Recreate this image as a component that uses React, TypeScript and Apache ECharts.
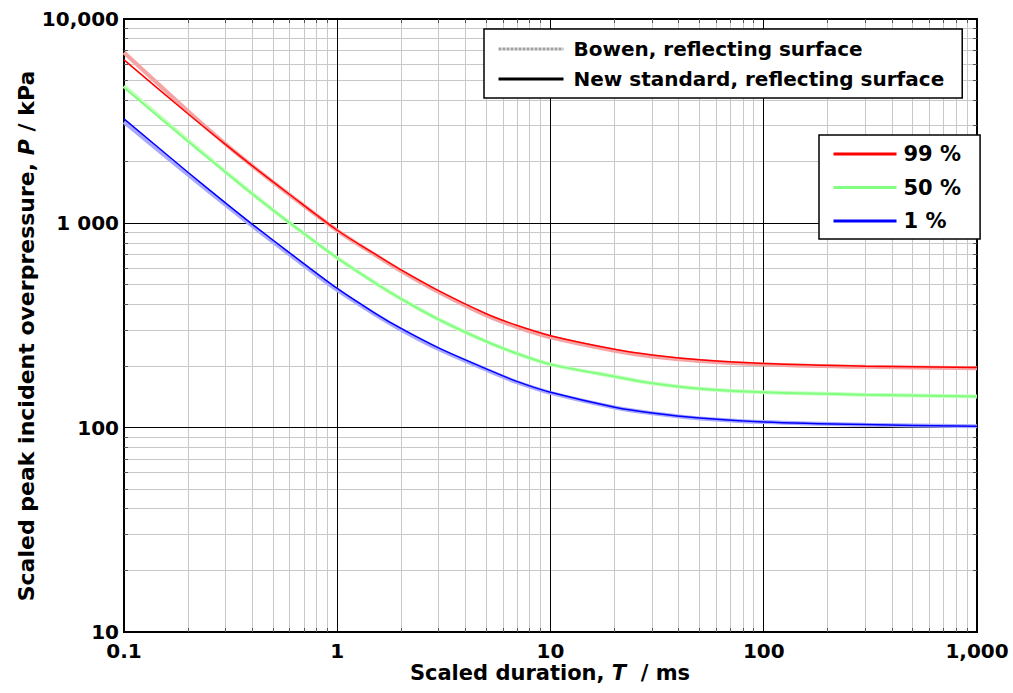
import React, { useEffect, useRef } from "react";
import * as echarts from "echarts";

// ---- data ----
const T = [0.1, 0.2, 0.3, 0.4, 0.6, 1, 1.5, 2, 3, 5, 7, 10, 20, 30, 50, 100, 300, 1000];
const NEW_99 = [6310, 3430, 2427, 1910, 1380, 925, 708, 590, 467, 361, 316, 282, 242, 227, 215, 206, 200, 197];
const NEW_50 = [4620, 2512, 1774, 1393, 1003, 677, 512, 426, 338, 264, 230, 204, 178, 165, 155, 149, 145, 142];
const NEW_1 = [3245, 1774, 1256, 989, 715, 480, 364, 305, 245, 194, 168, 149, 126, 118, 111.5, 106.7, 103.5, 101.6];
const BOWEN_99 = [6850, 3530, 2440, 1910, 1375, 922, 702, 583, 460, 354, 310, 277, 238, 223, 212, 204, 198.5, 195.5];
const BOWEN_50 = [4700, 2540, 1785, 1395, 1003, 677, 512, 426, 338, 264, 230, 204, 178, 165, 155, 149, 145, 142];
const BOWEN_1 = [3130, 1730, 1230, 970, 702, 472, 359, 301, 242, 192, 166.5, 148, 125.5, 117.5, 111, 106.5, 103.3, 101.5];

const X_TICKS = [0.1, 1, 10, 100, 1000];
const X_LABELS = ["0.1", "1", "10", "100", "1,000"];
const Y_TICKS = [10, 100, 1000, 10000];
const Y_LABELS = ["10", "100", "1 000", "10,000"];
const MINOR_MULT = [2, 3, 4, 5, 6, 7, 8, 9];
const X_DECADES = [0.1, 1, 10, 100];
const Y_DECADES = [10, 100, 1000];
const X_MAJOR_INNER = [1, 10, 100];
const Y_MAJOR_INNER = [100, 1000];

const X_MIN = 0.1, X_MAX = 1000, Y_MIN = 10, Y_MAX = 10000;

const FONT = "DejaVu Sans";

function pick(ticks: number[], labels: string[], v: number) {
  const i = ticks.findIndex((t) => Math.abs(Math.log10(t) - Math.log10(v)) < 1e-6);
  return i >= 0 ? labels[i] : "";
}

const crisp = (p: number) => Math.round(p - 0.5) + 0.5;

function vLines(values: number[], color: string, withTicks: boolean, z: number) {
  return {
    type: "custom",
    silent: true,
    z,
    data: values.map((v) => [v, Y_MIN]),
    renderItem: (params: any, api: any) => {
      const x = api.value(0);
      const p1 = api.coord([x, Y_MIN]);
      const p2 = api.coord([x, Y_MAX]);
      const xx = crisp(p1[0]);
      const children: any[] = [
        { type: "line", shape: { x1: xx, y1: p1[1], x2: xx, y2: p2[1] }, style: { stroke: color, lineWidth: 1 } },
      ];
      if (withTicks) {
        children.push({ type: "line", shape: { x1: xx, y1: p1[1], x2: xx, y2: p1[1] - 4 }, style: { stroke: "#555", lineWidth: 1 } });
        children.push({ type: "line", shape: { x1: xx, y1: p2[1], x2: xx, y2: p2[1] + 4 }, style: { stroke: "#555", lineWidth: 1 } });
      }
      return { type: "group", children };
    },
  };
}

function hLines(values: number[], color: string, withTicks: boolean, z: number) {
  return {
    type: "custom",
    silent: true,
    z,
    data: values.map((v) => [X_MIN, v]),
    renderItem: (params: any, api: any) => {
      const y = api.value(1);
      const p1 = api.coord([X_MIN, y]);
      const p2 = api.coord([X_MAX, y]);
      const yy = crisp(p1[1]);
      const children: any[] = [
        { type: "line", shape: { x1: p1[0], y1: yy, x2: p2[0], y2: yy }, style: { stroke: color, lineWidth: 1 } },
      ];
      if (withTicks) {
        children.push({ type: "line", shape: { x1: p1[0], y1: yy, x2: p1[0] + 4, y2: yy }, style: { stroke: "#555", lineWidth: 1 } });
        children.push({ type: "line", shape: { x1: p2[0], y1: yy, x2: p2[0] - 4, y2: yy }, style: { stroke: "#555", lineWidth: 1 } });
      }
      return { type: "group", children };
    },
  };
}

function lineSeries(name: string, ys: number[], color: string, width: number, z: number) {
  return {
    type: "line",
    name,
    data: T.map((t, i) => [t, ys[i]]),
    showSymbol: false,
    symbol: "none",
    smooth: 0.3,
    color,
    lineStyle: { color, width },
    z,
    silent: true,
  };
}

export default function App() {
  const ref = useRef<HTMLDivElement>(null);
  useEffect(() => {
    if (!ref.current) return;
    const chart = echarts.init(ref.current, undefined, { renderer: "svg" });
    const minorX: number[] = [];
    X_DECADES.forEach((d) => MINOR_MULT.forEach((m) => minorX.push(d * m)));
    const minorY: number[] = [];
    Y_DECADES.forEach((d) => MINOR_MULT.forEach((m) => minorY.push(d * m)));

    const labelStyle = { color: "#000", fontFamily: FONT, fontWeight: "bold" as const, fontSize: 20 };
    const legendText = { color: "#000", fontFamily: FONT, fontWeight: "bold" as const, fontSize: 20, lineHeight: 22 };

    chart.setOption({
      animation: false,
      backgroundColor: "#fff",
      grid: { left: 124, right: 36, top: 19, bottom: 61, show: true, borderColor: "#000", borderWidth: 2, backgroundColor: "transparent" },
      xAxis: {
        type: "log",
        logBase: 10,
        min: X_MIN,
        max: X_MAX,
        axisLine: { show: false },
        axisTick: { show: false },
        splitLine: { show: false },
        axisLabel: { ...labelStyle, margin: 9, formatter: (v: number) => pick(X_TICKS, X_LABELS, v) },
      },
      yAxis: {
        type: "log",
        logBase: 10,
        min: Y_MIN,
        max: Y_MAX,
        axisLine: { show: false },
        axisTick: { show: false },
        splitLine: { show: false },
        axisLabel: { ...labelStyle, margin: 5, formatter: (v: number) => pick(Y_TICKS, Y_LABELS, v) },
      },
      legend: [
        {
          data: ["Bowen, reflecting surface", "New standard, reflecting surface"],
          orient: "vertical",
          left: 484,
          top: 29,
          itemWidth: 65,
          itemHeight: 20,
          itemGap: 8,
          padding: [9, 18, 8, 13],
          backgroundColor: "#fff",
          borderColor: "#000",
          borderWidth: 1.5,
          borderRadius: 0,
          selectedMode: false,
          lineStyle: { width: 3 },
          itemStyle: { opacity: 0 },
          textStyle: { ...legendText, padding: [0, 0, 0, 5] },
        },
        {
          data: ["99 %", "50 %", "1 %"],
          orient: "vertical",
          left: 819,
          top: 135,
          itemWidth: 63,
          itemHeight: 20,
          itemGap: 11.5,
          padding: [8, 19, 7, 13],
          backgroundColor: "#fff",
          borderColor: "#000",
          borderWidth: 1.5,
          borderRadius: 0,
          selectedMode: false,
          lineStyle: { width: 3 },
          itemStyle: { opacity: 0 },
          textStyle: { ...legendText, fontSize: 21, padding: [0, 0, 0, 2] },
        },
      ],
      graphic: [
        {
          type: "text",
          x: 550,
          y: 673,
          silent: true,
          style: {
            text: "{b|Scaled duration, }{i|T}{b|  / ms}",
            align: "center",
            verticalAlign: "middle",
            fill: "#000",
            fontFamily: FONT,
            fontWeight: "bold",
            fontSize: 21,
            rich: {
              b: { fontFamily: FONT, fontWeight: "bold", fontSize: 21, fill: "#000" },
              i: { fontFamily: FONT, fontWeight: "bold", fontStyle: "italic", fontSize: 21, fill: "#000" },
            },
          },
        },
        {
          type: "text",
          x: 26,
          y: 336,
          rotation: Math.PI / 2,
          silent: true,
          style: {
            text: "{b|Scaled peak incident overpressure, }{i|P}{b| / kPa}",
            align: "center",
            verticalAlign: "middle",
            fill: "#000",
            fontFamily: FONT,
            fontWeight: "bold",
            fontSize: 22,
            rich: {
              b: { fontFamily: FONT, fontWeight: "bold", fontSize: 22, fill: "#000" },
              i: { fontFamily: FONT, fontWeight: "bold", fontStyle: "italic", fontSize: 22, fill: "#000" },
            },
          },
        },
      ],
      series: [
        vLines(minorX, "#c8c8c8", true, 1),
        hLines(minorY, "#c8c8c8", true, 1),
        vLines(X_MAJOR_INNER, "#000", false, 1),
        hLines(Y_MAJOR_INNER, "#000", false, 1),
        lineSeries("Bowen 99 %", BOWEN_99, "#f5a3a3", 4, 3),
        lineSeries("Bowen 50 %", BOWEN_50, "#c8ffc0", 4, 3),
        lineSeries("Bowen 1 %", BOWEN_1, "#a8a8ff", 4, 3),
        lineSeries("99 %", NEW_99, "#ff0000", 1.5, 4),
        lineSeries("50 %", NEW_50, "#80ff80", 2, 4),
        lineSeries("1 %", NEW_1, "#0000ff", 1.5, 4),
        {
          type: "line",
          name: "Bowen, reflecting surface",
          data: [],
          symbol: "none",
          color: "#a0a0a0",
          lineStyle: { color: "#a0a0a0", width: 3, type: [3, 1] },
        },
        {
          type: "line",
          name: "New standard, reflecting surface",
          data: [],
          symbol: "none",
          color: "#000",
          lineStyle: { color: "#000", width: 3 },
        },
      ],
    });
    return () => chart.dispose();
  }, []);
  return (
    <div
      ref={ref}
      style={{ position: "fixed", left: 0, top: 0, width: 1013, height: 693, background: "#fff" }}
    />
  );
}
